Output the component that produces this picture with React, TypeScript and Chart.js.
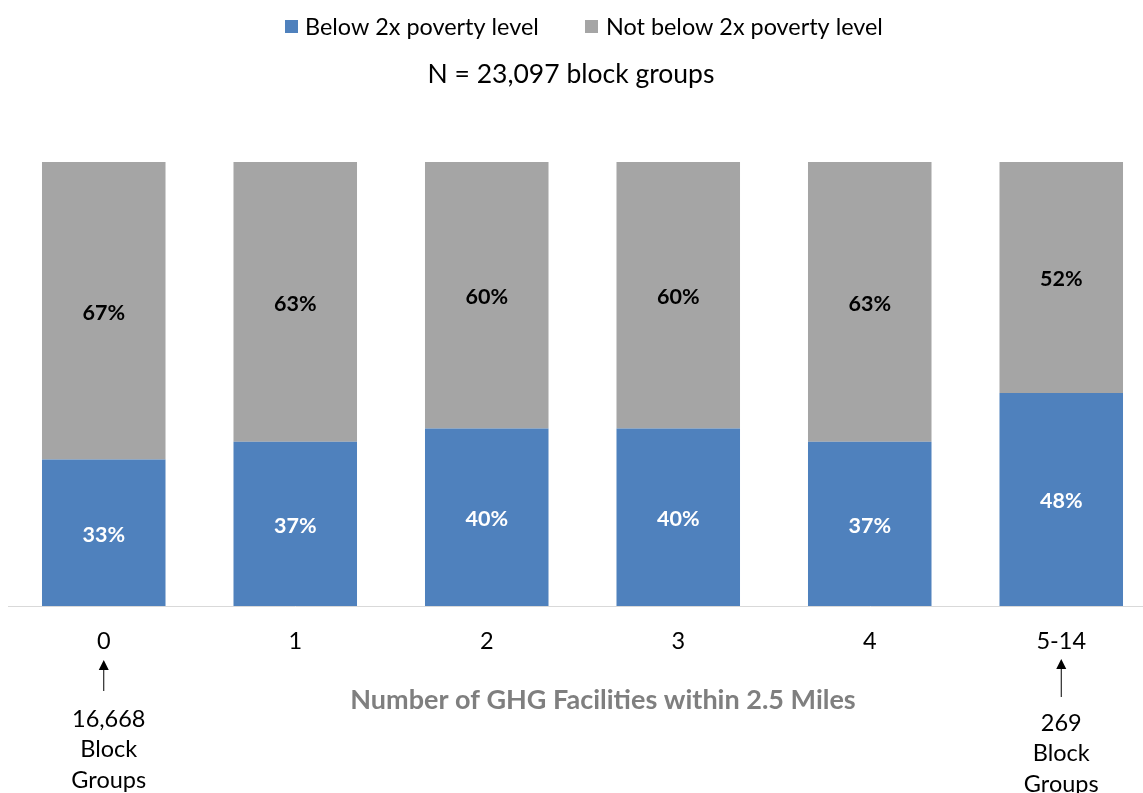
import React, { useEffect, useRef } from "react";
import { Chart, registerables } from "chart.js";

Chart.register(...registerables);

const categories = ["0", "1", "2", "3", "4", "5-14"];
const belowPoverty = [33, 37, 40, 40, 37, 48];
const notBelowPoverty = [67, 63, 60, 60, 63, 52];
const seriesNames = ["Below 2x poverty level", "Not below 2x poverty level"];
const subtitleText = "N = 23,097 block groups";
const axisTitleText = "Number of GHG Facilities within 2.5 Miles";
const leftNote = ["16,668", "Block", "Groups"];
const rightNote = ["269", "Block", "Groups"];

const BLUE = "#4f81bd";
const GRAY = "#a5a5a5";
const FONT = "Lato, 'Open Sans', sans-serif";

const annotationsPlugin = {
  id: "annotations",
  afterDatasetsDraw(chart: any) {
    const ctx = chart.ctx as CanvasRenderingContext2D;
    ctx.save();
    // data labels
    chart.data.datasets.forEach((ds: any, di: number) => {
      const meta = chart.getDatasetMeta(di);
      meta.data.forEach((bar: any, i: number) => {
        const v = ds.data[i];
        const cy = (bar.y + bar.base) / 2;
        ctx.font = `bold 21.5px ${FONT}`;
        ctx.fillStyle = di === 0 ? "#ffffff" : "#000000";
        ctx.textAlign = "center";
        ctx.textBaseline = "middle";
        ctx.fillText(`${v}%`, bar.x, cy + 2);
      });
    });

    // legend
    ctx.textAlign = "left";
    ctx.textBaseline = "middle";
    ctx.font = `23.4px ${FONT}`;
    const legendY = 27;
    ctx.fillStyle = BLUE;
    ctx.fillRect(285, legendY - 7, 13, 13);
    ctx.fillStyle = "#000";
    ctx.fillText(seriesNames[0], 305, legendY);
    ctx.fillStyle = GRAY;
    ctx.fillRect(585, legendY - 7, 13, 13);
    ctx.fillStyle = "#000";
    ctx.fillText(seriesNames[1], 606, legendY);

    // subtitle
    ctx.textAlign = "center";
    ctx.font = `26.5px ${FONT}`;
    ctx.fillText(subtitleText, 571, 74);

    // axis title
    ctx.font = `bold 27px ${FONT}`;
    ctx.fillStyle = "#7f7f7f";
    ctx.fillText(axisTitleText, 603, 700);

    // arrows + notes
    const xMeta = chart.getDatasetMeta(0).data;
    const drawArrow = (x: number, top: number, bottom: number) => {
      ctx.strokeStyle = "#000";
      ctx.lineWidth = 1;
      ctx.beginPath();
      ctx.moveTo(x, bottom);
      ctx.lineTo(x, top + 8);
      ctx.stroke();
      ctx.fillStyle = "#000";
      ctx.beginPath();
      ctx.moveTo(x, top);
      ctx.lineTo(x - 5, top + 10);
      ctx.lineTo(x + 5, top + 10);
      ctx.closePath();
      ctx.fill();
    };
    const lx = xMeta[0].x;
    const rx = xMeta[xMeta.length - 1].x;
    drawArrow(lx, 660, 691);
    drawArrow(rx, 659, 697);
    ctx.font = `23.5px ${FONT}`;
    ctx.fillStyle = "#000";
    leftNote.forEach((t, i) => ctx.fillText(t, lx + 5, 719 + i * 30.5));
    rightNote.forEach((t, i) => ctx.fillText(t, rx, 723 + i * 30.5));
    ctx.restore();
  },
};

export default function App() {
  const ref = useRef<HTMLCanvasElement | null>(null);
  useEffect(() => {
    if (!ref.current) return;
    const chart = new Chart(ref.current, {
      type: "bar",
      data: {
        labels: categories,
        datasets: [
          { label: seriesNames[0], data: belowPoverty, backgroundColor: BLUE },
          { label: seriesNames[1], data: notBelowPoverty, backgroundColor: GRAY },
        ],
      },
      options: {
        animation: false,
        responsive: false,
        maintainAspectRatio: false,
        layout: { padding: { top: 162, left: 8, right: 0, bottom: 0 } },
        datasets: { bar: { barPercentage: 0.645, categoryPercentage: 1 } },
        plugins: { legend: { display: false }, tooltip: { enabled: false }, title: { display: false } },
        scales: {
          x: {
            stacked: true,
            grid: { display: false, drawTicks: false },
            border: { display: true, color: "#d9d9d9", width: 1 },
            ticks: { color: "#000", font: { family: FONT, size: 23.5 }, padding: 21 },
            afterFit: (scale: any) => {
              scale.height = 187;
            },
          },
          y: {
            stacked: true,
            display: false,
            min: 0,
            max: 100,
          },
        },
      },
      plugins: [annotationsPlugin],
    });
    return () => chart.destroy();
  }, []);
  return (
    <div style={{ position: "fixed", left: 0, top: 0, width: 1143, height: 793, overflow: "hidden", background: "#fff" }}>
      <canvas ref={ref} width={1157} height={793} style={{ display: "block", width: 1157, height: 793 }} />
    </div>
  );
}
